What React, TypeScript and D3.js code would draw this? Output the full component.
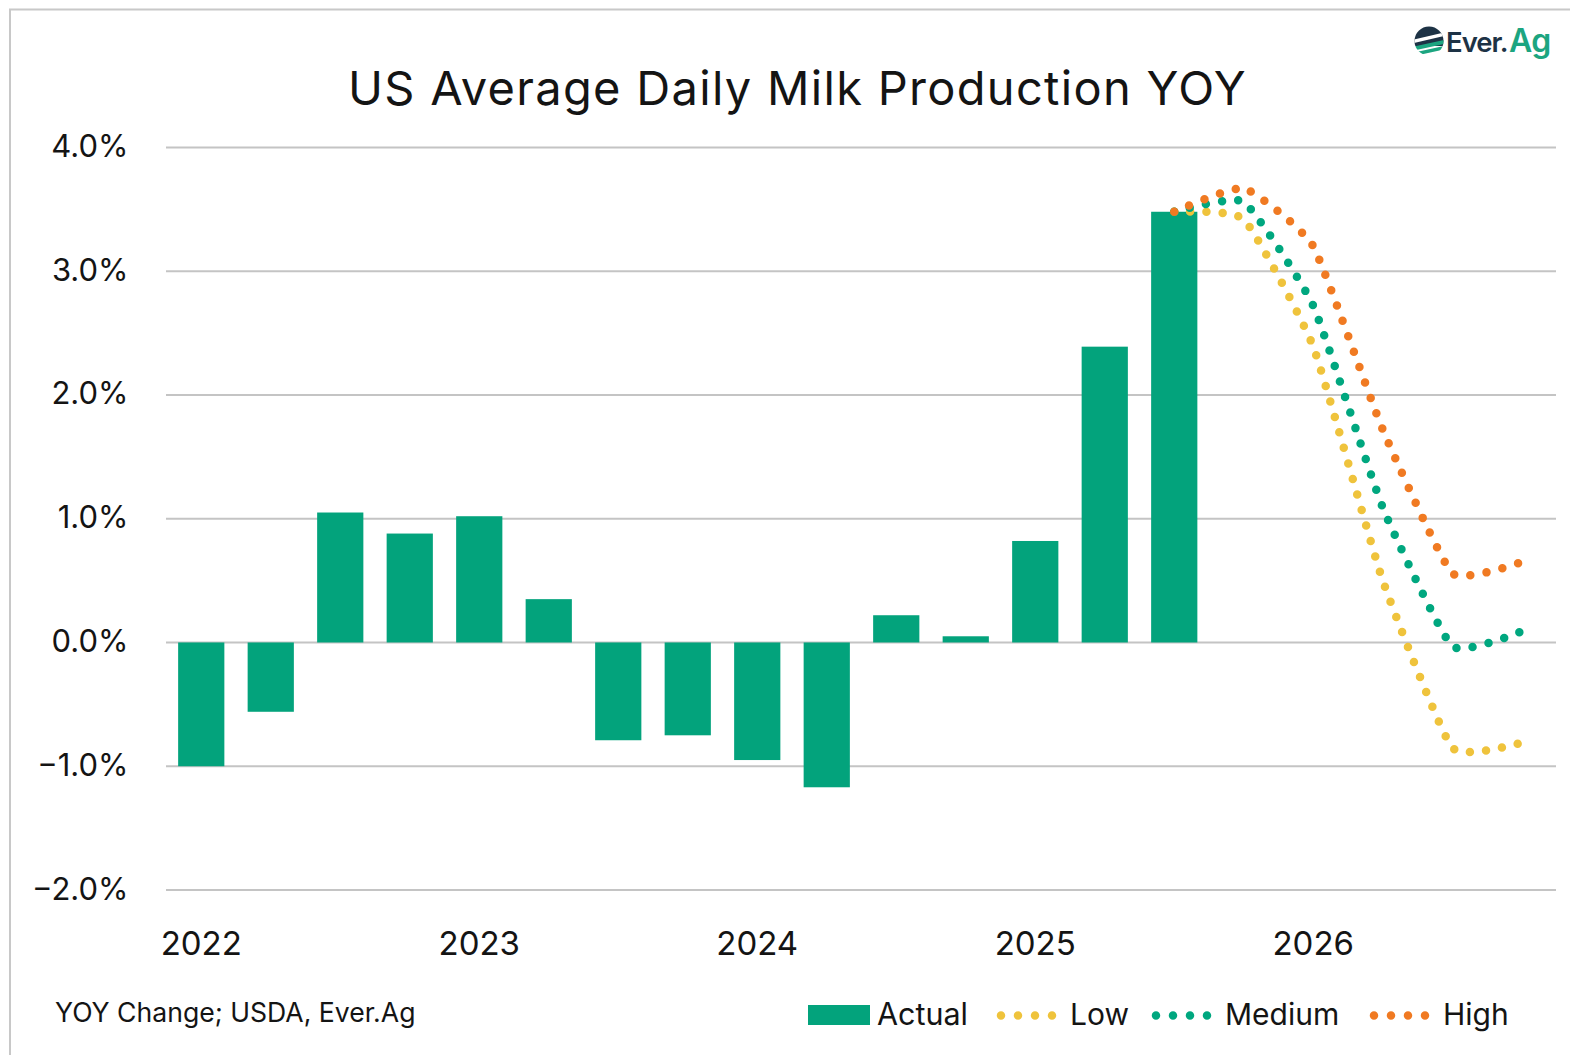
import React from "react";
import * as d3 from "d3";

const categories = ["2022Q1","2022Q2","2022Q3","2022Q4","2023Q1","2023Q2","2023Q3","2023Q4","2024Q1","2024Q2","2024Q3","2024Q4","2025Q1","2025Q2","2025Q3","2025Q4","2026Q1","2026Q2","2026Q3","2026Q4"];
const actual = [-1.0,-0.56,1.05,0.88,1.02,0.35,-0.79,-0.75,-0.95,-1.17,0.22,0.05,0.82,2.39,3.48];
const forecastCategories = ["2025Q3","2025Q4","2026Q1","2026Q2","2026Q3","2026Q4"];
const low = [3.48,3.42,2.39,0.5,-0.85,-0.81];
const medium = [3.48,3.56,2.72,1.09,-0.03,0.09];
const high = [3.48,3.67,3.2,1.72,0.56,0.65];
const yTicks = [-2,-1,0,1,2,3,4];
const yearLabels = ["2022Q1","2023Q1","2024Q1","2025Q1","2026Q1"];

const FONT = "Inter, 'Open Sans', sans-serif";
const GREEN = "#03A37C";
const YELLOW = "#EFC33C";
const TEAL = "#00A77F";
const ORANGE = "#F07A22";
const TEXT = "#141414";

const series = [
  { name: "Low", values: low, color: YELLOW, gap: 16.1 },
  { name: "Medium", values: medium, color: TEAL, gap: 16.28 },
  { name: "High", values: high, color: ORANGE, gap: 16.35 },
];
const legendItems = [
  { name: "Low", color: YELLOW, x1: 1001, x2: 1052.5, tx: 1070 },
  { name: "Medium", color: TEAL, x1: 1156, x2: 1207.5, tx: 1225 },
  { name: "High", color: ORANGE, x1: 1374, x2: 1425.5, tx: 1443 },
];

export default function App() {
  const x = d3.scaleBand<string>().domain(categories).range([166.5, 1556.5]).paddingInner(0.335).paddingOuter(0.1675);
  const y = d3.scaleLinear().domain([-2, 4]).range([890, 147.4]);
  const cx = (c: string) => (x(c) as number) + x.bandwidth() / 2;
  const line = d3.line<number>()
    .x((_, i) => cx(forecastCategories[i]))
    .y((d) => y(d))
    .curve(d3.curveCardinal.tension(0.55));

  return (
    <svg width={1570} height={1055} style={{ position: "absolute", left: 0, top: 0, background: "#fff" }} fontFamily={FONT}>
      <path d="M10 1055 V9.5 H1570" fill="none" stroke="#C8C8C8" strokeWidth={2} />

      <text x={797.5} y={105} textAnchor="middle" fontSize={47} letterSpacing={1.3} fill={TEXT}>US Average Daily Milk Production YOY</text>

      {yTicks.map((t) => (
        <g key={t}>
          <line x1={166} x2={1556} y1={y(t)} y2={y(t)} stroke="#C4C4C4" strokeWidth={2} />
          <text x={128.5} y={y(t) + 9.5} textAnchor="end" fontSize={31} fill={TEXT}>{d3.format(".1f")(t).replace("-", "−")}%</text>
        </g>
      ))}

      {actual.map((v, i) => (
        <rect key={categories[i]} x={x(categories[i])} width={x.bandwidth()} y={Math.min(y(v), y(0))} height={Math.abs(y(v) - y(0))} fill={GREEN} />
      ))}

      {series.map((s) => (
        <path key={s.name} d={line(s.values) as string} fill="none" stroke={s.color} strokeWidth={8.5} strokeLinecap="round" strokeDasharray={`0 ${s.gap}`} />
      ))}

      {yearLabels.map((c) => (
        <text key={c} x={cx(c)} y={955} textAnchor="middle" fontSize={33} fill={TEXT}>{c.slice(0, 4)}</text>
      ))}

      <text x={55} y={1022} fontSize={26.6} fill={TEXT}>YOY Change; USDA, Ever.Ag</text>

      <rect x={808} y={1005} width={62} height={20} fill={GREEN} />
      <text x={877} y={1024.5} fontSize={30.5} fill={TEXT}>Actual</text>
      {legendItems.map((l) => (
        <g key={l.name}>
          <line x1={l.x1} x2={l.x2} y1={1015.5} y2={1015.5} stroke={l.color} strokeWidth={8.5} strokeLinecap="round" strokeDasharray="0 17" />
          <text x={l.tx} y={1024.5} fontSize={30} fill={TEXT}>{l.name}</text>
        </g>
      ))}

      <g>
        <clipPath id="logo"><circle cx={1429} cy={41} r={14.5} /></clipPath>
        <g clipPath="url(#logo)">
          <rect x={1414} y={26} width={30} height={20} fill="#1D3245" />
          <rect x={1414} y={46} width={30} height={12} fill="#fff" />
          <path d="M1412 40 L1446 32 L1446 35.5 L1412 43.5 Z" fill="#fff" />
          <path d="M1412 47 L1446 39.5 L1446 43.5 L1412 51 Z" fill="#1CA580" />
          <path d="M1412 53 L1446 45.5 L1446 49 L1412 56.5 Z" fill="#1CA580" />
        </g>
        <text x={1446} y={52} fontSize={27.5} fontWeight={600} letterSpacing={-1} fill="#1D3245">Ever.</text>
        <text x={1509} y={52} fontSize={32} fontWeight={600} letterSpacing={-0.5} fill="#1CA580">Ag</text>
      </g>
    </svg>
  );
}
